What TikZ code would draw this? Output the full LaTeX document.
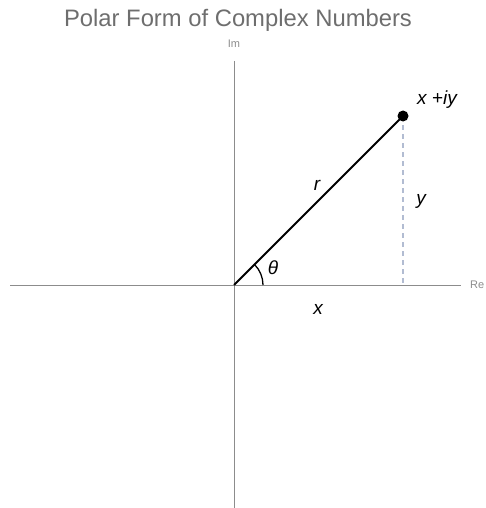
\documentclass[tikz,border=0pt]{standalone}
\usepackage{fontspec}
\setmainfont{Liberation Sans}
\definecolor{titlegray}{RGB}{110,110,110}
\definecolor{axisgray}{RGB}{140,140,140}
\definecolor{dashblue}{RGB}{178,188,210}
\begin{document}
\begin{tikzpicture}[x=1pt,y=-1pt,
  axis/.style={draw=axisgray,line width=0.9pt},
  lbl/.style={font=\fontsize{19}{22}\selectfont\itshape,inner sep=0pt},
  small/.style={font=\fontsize{11}{13}\selectfont,text=axisgray,inner sep=0pt}]
\useasboundingbox (0,0) rectangle (486,508);
\coordinate (O) at (234,285);
\coordinate (L) at (10,285);
\coordinate (R) at (461,285);
\coordinate (T) at (234,61);
\coordinate (B) at (234,508);
\coordinate (P) at (403,116);
\coordinate (F) at (403,285);
\node[font=\fontsize{23.8}{28}\selectfont,text=titlegray,inner sep=0pt] (title) at (238,20) {Polar Form of Complex Numbers};
\node[small] (im) at (234,44) {Im};
\node[small,anchor=west] (re) at (470,285) {Re};
\draw[axis] (L) -- (R);
\draw[axis] (T) -- (B);
\draw[draw=dashblue,line width=1.1pt,dash pattern=on 5pt off 4pt] (P) -- (F);
\draw[black,line width=1.8pt] (O) -- (P);
\fill[black] (P) circle (5.5);
\draw[black,line width=1.3pt] ([shift={(29,0)}]O) arc[start angle=0,end angle=-45.2,radius=29];
\node[lbl] (theta) at (273,268) {θ};
\node[lbl] (r) at (317,185) {r};
\node[lbl] (y) at (421,201) {y};
\node[lbl] (x) at (318,309) {x};
\node[lbl] (z) at (437,100) {x +iy};
\end{tikzpicture}
\end{document}
